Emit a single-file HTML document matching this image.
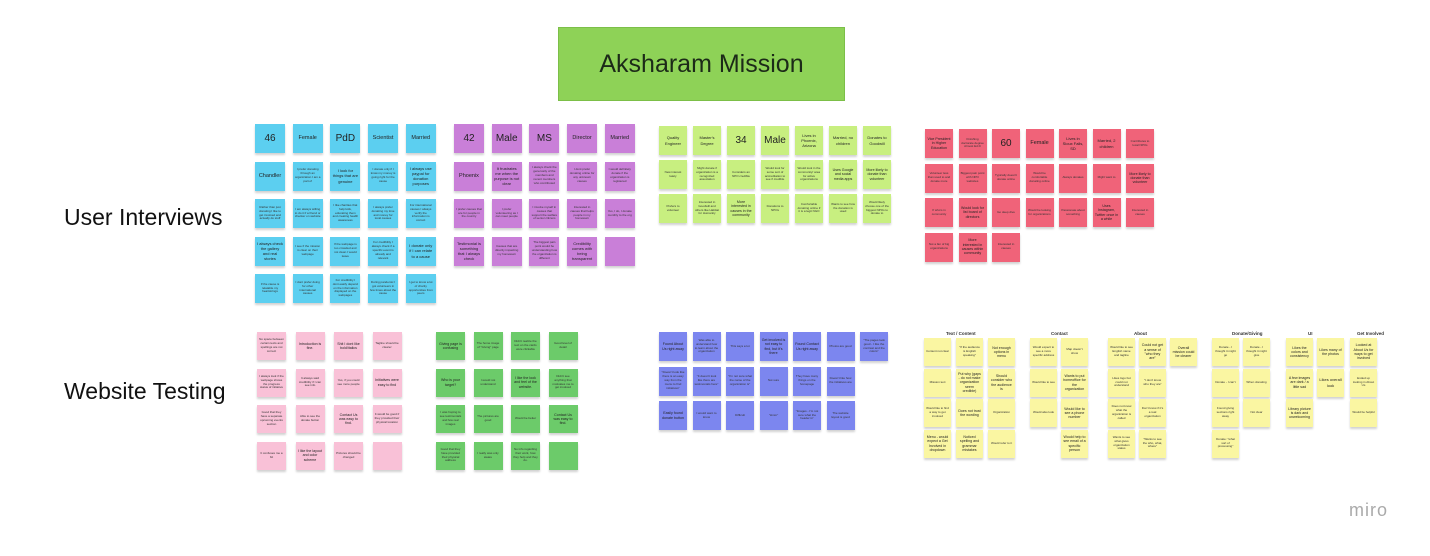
<!DOCTYPE html>
<html><head><meta charset="utf-8"><style>
*{margin:0;padding:0;box-sizing:border-box}
body{width:1430px;height:556px;background:#fff;position:relative;overflow:hidden;font-family:"Liberation Sans",sans-serif;color:#222}
.title{position:absolute;left:558px;top:27px;width:287px;height:74px;background:#8ed257;border:1px solid #7cbf48;display:flex;align-items:center;justify-content:center;font-size:25px;color:#1c2a18}
.lbl{position:absolute;font-size:23px;color:#111}
.g{position:absolute;display:grid}
.g div{display:flex;align-items:center;justify-content:center;text-align:center;font-size:3px;line-height:1.3;padding:2px;box-shadow:0 2px 2px rgba(0,0,0,.18);overflow:hidden;color:#333}
.g div.e{background:transparent!important;box-shadow:none}
.g div.b{font-size:10px;color:#222}
.g div.m{font-size:5.5px;line-height:1.25;color:#222}
.g div.s{font-size:4px;color:#222}
.g div.t{font-size:3.6px;line-height:1.2;color:#222}
.bl div{background:#5ccff0}.pu div{background:#c97fd8}.li div{background:#c8ef80}.rd div{background:#f06379}
.pk div{background:#f9c1d7}.gr div{background:#6ccb6a}.vi div{background:#7c86ef}.ye div{background:#faf6a2}
.h{position:absolute;font-size:4.5px;font-weight:bold;color:#333;top:331px}
.miro{position:absolute;left:1349px;top:500px;font-size:18px;color:#aaa;letter-spacing:1px}
</style></head><body>
<div class="title">Aksharam Mission</div>
<div class="lbl" style="left:64px;top:204px">User Interviews</div>
<div class="lbl" style="left:64px;top:378px">Website Testing</div>

<div class="g bl" style="left:255px;top:124px;grid-template-columns:repeat(5,30px);grid-auto-rows:29px;gap:8.5px 7.7px">
<div class="b">46</div><div class="m">Female</div><div class="b">PdD</div><div class="m">Scientist</div><div class="m">Married</div>
<div class="m">Chandler</div><div>I prefer donating through an organization I am a part of</div><div class="s">I look for things that are genuine</div><div>I donate only if I know my money is going right for the cause</div><div class="s">I always use paypal for donation purposes</div>
<div>Rather than just donating I like to get involved and actually do stuff</div><div>I am always willing to do it if a friend or checker on website</div><div>I like charities that help kids, educating them and creating health awareness</div><div>I always prefer donating my time and money for local causes</div><div>For international causes I always verify the information is correct</div>
<div class="s">I always check the gallery and real stories</div><div>I see if the mission is clear on their webpage</div><div>If the webpage is too crowded and not clean I would leave</div><div>For credibility I always check if a specific event is already and relevant</div><div class="s">I donate only if I can relate to a cause</div>
<div>If the cause is relatable my heartstrings</div><div>I dont prefer doing for other international causes</div><div>For credibility I dont easily depend on the information displayed on the webpages</div><div>During pandemic I got volunteers in few times about the cause</div><div>I get to know a lot of charity opportunities from peers</div>
</div>

<div class="g pu" style="left:454px;top:124px;grid-template-columns:repeat(5,30px);grid-auto-rows:29px;gap:8.5px 7.7px">
<div class="b">42</div><div class="b">Male</div><div class="b">MS</div><div class="m">Director</div><div class="m">Married</div>
<div class="m">Phoenix</div><div class="s">It frustrates me when the purpose is not clear</div><div>I always check the generosity of the members and recent members who contributed</div><div>I dont prefer donating online for any unknown causes</div><div>I would definitely donate if the organization is registered</div>
<div>I prefer causes that are for people in the country</div><div>I prefer volunteering as I can meet people</div><div>I involve myself in causes that support the welfare of senior citizens</div><div>Interested in causes that helps people in my hometown</div><div>Yes, I do, I donate monthly to the org</div>
<div class="s">Testimonial is something that I always check</div><div>Causes that are directly impacting my hometown</div><div>The biggest pain point would be understanding how the organization is different</div><div class="s">Credibility comes with being transparent</div><div></div>
</div>

<div class="g li" style="left:659px;top:126px;grid-template-columns:repeat(7,28px);grid-auto-rows:29px;gap:5px 6px">
<div class="s">Quality Engineer</div><div class="s">Master's Degree</div><div class="b">34</div><div class="b">Male</div><div class="s">Lives in Phoenix, Arizona</div><div class="s">Married, no children</div><div class="s">Donates to Goodwill</div>
<div>New interest lately</div><div>Might donate if organization is a recognized association</div><div>Considers an NPO credible</div><div>Would look for some sort of accreditation to see if credible</div><div>Would look in the community/ area for active organizations</div><div class="t">Uses Google and social media apps</div><div class="t">More likely to donate than volunteer</div>
<div>Prefers to volunteer</div><div>Interested in Goodwill and others like Habitat for Humanity</div><div class="t">More interested in causes in the community</div><div>Donations to NPOs</div><div>Comfortable donating online if it is a legit NGO</div><div>Wants to see how the donation is used</div><div>Would likely choose one of the biggest NPOs to donate to</div>
</div>

<div class="g rd" style="left:925px;top:129px;grid-template-columns:repeat(7,28px);grid-auto-rows:29px;gap:5.5px 5.5px">
<div class="t">Vice President in Higher Education</div><div>Finishing doctorate degree Almost Ed.D</div><div class="b">60</div><div class="m">Female</div><div class="s">Lives in Sioux Falls, SD</div><div class="s">Married, 2 children</div><div>Contributes to local NPOs</div>
<div>Volunteer less than used to and donate more</div><div>Biggest pain point with NPO websites</div><div>Typically doesn't donate online</div><div>Would be comfortable donating online</div><div>Always donates</div><div>Might want to</div><div class="t">More likely to donate than volunteer</div>
<div>If who's in community</div><div class="t">Would look for list board of directors</div><div>Go deep dive</div><div>Would be looking for organizations</div><div>Passionate about something</div><div class="t">Uses Instagram, Twitter once in a while</div><div>Interested in causes</div>
<div>Not a fan of big organizations</div><div class="t">More interested in causes within community</div><div>Interested in causes</div><div class="e"></div><div class="e"></div><div class="e"></div><div class="e"></div>
</div>

<div class="g pk" style="left:257px;top:332px;grid-template-columns:repeat(4,29px);grid-auto-rows:28px;gap:8.5px 9.5px">
<div>No space between certain texts and spellings are not correct</div><div class="t">Introduction is fine.</div><div class="t">Shit I dont like bold/italics</div><div>Tagline should be clearer</div>
<div>I always look if the webpage shows the progress status of initiative</div><div>It always said credibility if I can see info</div><div>Yes, if you could see more people</div><div class="t">Initiatives were easy to find</div>
<div>Good that they have a separate upcoming events section</div><div>Able to see the donate button</div><div class="t">Contact Us was easy to find.</div><div>It would be good if they provided their physical location</div>
<div>It confuses me a bit</div><div class="t">I like the layout and color scheme</div><div>Pictures should be changed</div><div></div>
</div>

<div class="g gr" style="left:436px;top:332px;grid-template-columns:repeat(4,29px);grid-auto-rows:28px;gap:8.5px 8.5px">
<div class="t">Giving page is confusing</div><div>The home image of "Giving" page</div><div>Didn't realize the text on the cards were clickable</div><div>Good level of detail</div>
<div class="t">Who is your target?</div><div>I would not understand</div><div class="t">I like the look and feel of the website.</div><div>Didn't see anything that motivates me to get involved</div>
<div>I was hoping to see testimonials and few real images</div><div>The pictures are good</div><div>Would be better</div><div class="t">Contact Us was easy to find.</div>
<div>Good that they have provided their physical address</div><div>I really was only aware</div><div>No info regarding their work, how they help and they do.</div><div></div>
</div>

<div class="g vi" style="left:659px;top:332px;grid-template-columns:repeat(7,28px);grid-auto-rows:29px;gap:5.5px 5.5px">
<div class="t">Found About Us right away</div><div>Was able to understand how to learn about the organization</div><div>This says a lot</div><div class="t">Get involved is not easy to find, but it's there</div><div class="t">Found Contact Us right away</div><div>Photos are good</div><div>"The pages look good - I like the contrast and the colors"</div>
<div>"Doesn't look like there is an easy way from the menu to find initiatives"</div><div>"It doesn't look like there are testimonials here"</div><div>"I'm not sure what the name of the organization is"</div><div>Not sure</div><div>They have many things on the homepage</div><div>Doesn't like how the initiatives are</div><div class="e"></div>
<div class="t">Easily found donate button</div><div>I would want to know</div><div>Difficult</div><div>"Hmm"</div><div>"Images - I'm not sure what the header is"</div><div>The website layout is good</div><div class="e"></div>
</div>

<div class="h" style="left:946px">Text / Content</div>
<div class="h" style="left:1051px">Contact</div>
<div class="h" style="left:1134px">About</div>
<div class="h" style="left:1232px">Donate/Giving</div>
<div class="h" style="left:1308px">UI</div>
<div class="h" style="left:1357px">Get Involved</div>

<div class="g ye" style="left:924px;top:338px;grid-template-columns:repeat(3,27px);grid-auto-rows:28px;gap:2.5px 5px">
<div>Content not clear</div><div>"If the audience is English speaking"</div><div class="t">Not enough options in menu</div>
<div>Mission text</div><div class="t">Put why (gaps - do not make organization seem credible)</div><div class="t">Should consider who the audience is</div>
<div>Would like to find a way to get involved</div><div class="t">Does not trust the wording</div><div>Organization</div>
<div class="t">Menu - would expect a Get Involved in dropdown</div><div class="t">Noticed spelling and grammar mistakes</div><div>Would refer to it</div>
</div>
<div class="g ye" style="left:1030px;top:338px;grid-template-columns:repeat(2,27px);grid-auto-rows:28px;gap:2.5px 4px">
<div>Would expect to see a more specific address</div><div>Map doesn't show</div>
<div>Would like to see</div><div class="t">Wants to put homeoffice for the organization</div>
<div>Would also look</div><div class="t">Would like to see a phone number</div>
<div class="e"></div><div class="t">Would help to see email of a specific person</div>
</div>
<div class="g ye" style="left:1108px;top:338px;grid-template-columns:repeat(3,27px);grid-auto-rows:28px;gap:2.5px 4px">
<div>Would like to see English name and tagline</div><div class="t">Could not get a sense of "who they are"</div><div class="t">Overall mission could be clearer</div>
<div>Likes logo but could not understand</div><div>"I don't know who they are"</div><div class="e"></div>
<div>Does not know what the organization is called</div><div>Don't know if it's a real organization</div><div class="e"></div>
<div>Wants to see what gives organization status</div><div>"Wants to see the who, what, where"</div><div class="e"></div>
</div>
<div class="g ye" style="left:1212px;top:338px;grid-template-columns:repeat(2,27px);grid-auto-rows:28px;gap:2.5px 4px">
<div>Donate - I thought it might go</div><div>Donate - I thought it might give</div>
<div>Donate - I can't</div><div>When donating</div>
<div>Found giving sections right away</div><div>Not clear</div>
<div>Donate: "what sort of processing"</div><div class="e"></div>
</div>
<div class="g ye" style="left:1286px;top:338px;grid-template-columns:repeat(2,27px);grid-auto-rows:28px;gap:2.5px 4px">
<div class="t">Likes the colors and consistency</div><div class="t">Likes many of the photos</div>
<div class="t">A few images are dark / a little sad</div><div class="s">Likes overall look</div>
<div class="t">Library picture is dark and unwelcoming</div><div class="e"></div>
</div>
<div class="g ye" style="left:1350px;top:338px;grid-template-columns:27px;grid-auto-rows:28px;gap:2.5px 4px">
<div class="t">Looked at About Us for ways to get involved</div>
<div>Ended up looking in About Us</div>
<div>Would be helpful</div>
</div>

<div class="miro">miro</div>
</body></html>
